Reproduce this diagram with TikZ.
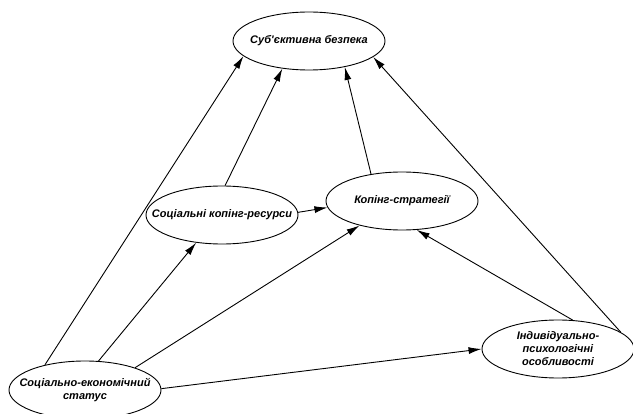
\documentclass[tikz,border=0pt]{standalone}
\usepackage{fontspec}
\setmainfont{Liberation Sans}
\usetikzlibrary{shapes.geometric,arrows.meta}

\tikzset{
  factortext/.style={align=center,font=\fontsize{11}{13}\selectfont\bfseries\itshape},
  factor/.style={draw,ellipse,line width=0.9pt,inner sep=0pt,minimum width=152pt,minimum height=58pt,
    label={[factortext]center:#1}},
  link/.style={-{Latex[length=13pt,width=7pt]},line width=0.9pt}
}

\begin{document}
\begin{tikzpicture}[x=1pt,y=-1pt]
        \useasboundingbox (0,0) rectangle (633,414) ;
        %\draw[very thin,gray,step=50] (0,0) grid (633,414) ;
        \node[factor={Суб\textquotesingle єктивна безпека}] (bezpeka) at (309,41) {} ;
        \node[factor={Соціальні копінг-ресурси}] (resursy) at (222,215) {} ;
        \node[factor={Копінг-стратегії}] (strategii) at (402,201) {} ;
        \node[factor={Соціально-економічний\\статус}] (status) at (85,390) {} ;
        \node[factor={Індивідуально-\\психологічні\\особливості}] (osobl) at (558,349) {} ;
        % from status
        \draw[link] (status.148) -- (bezpeka.193) ;
        \draw[link] (status.65) -- (resursy.227) ;
        \draw[link] (status.24) -- (strategii.210) ;
        \draw[link] (status.1) -- (osobl.180) ;
        % resources and strategies
        \draw[link] (resursy.84) -- (bezpeka.226) ;
        \draw[link] (resursy.2) -- (strategii.185) ;
        \draw[link] (strategii.139) -- (bezpeka.324) ;
        % from personality
        \draw[link] (osobl.63) -- (strategii.297) ;
        \draw[link] (osobl.15) -- (bezpeka.346) ;
\end{tikzpicture}
\end{document}
